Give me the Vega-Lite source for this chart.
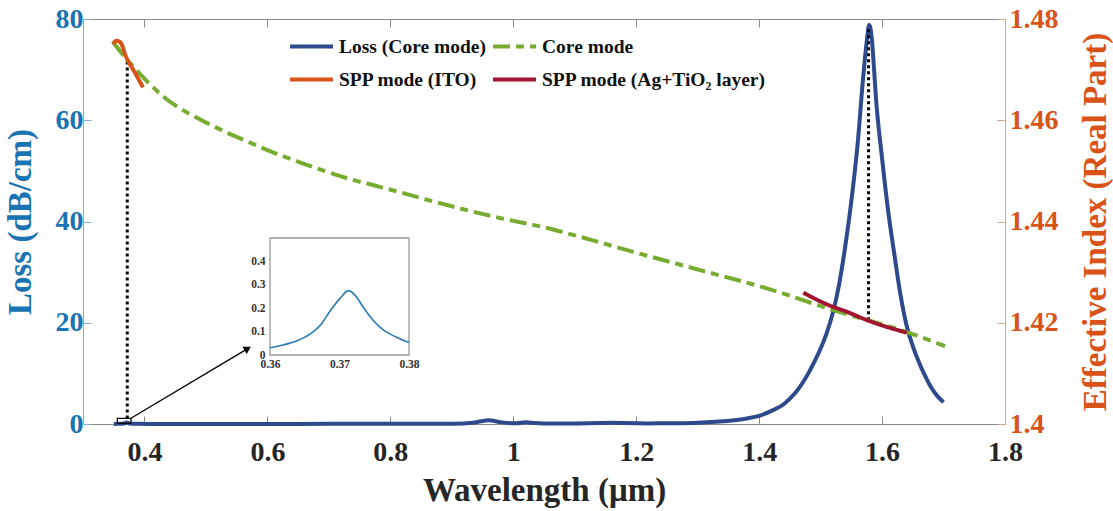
{
  "$schema": "https://vega.github.io/schema/vega-lite/v6.json",
  "width": 922,
  "height": 405,
  "autosize": {"type": "none"},
  "padding": {"left": 83, "top": 19, "right": 108, "bottom": 87},
  "background": "white",
  "config": {
    "view": {"stroke": null},
    "font": "Liberation Serif",
    "axis": {
      "grid": false,
      "labelFont": "Liberation Serif",
      "titleFont": "Liberation Serif",
      "labelFontWeight": "bold",
      "titleFontWeight": "bold",
      "labelOverlap": false,
      "labelFlush": false
    },
    "legend": {
      "orient": "none",
      "legendX": 205,
      "legendY": 4,
      "columns": 2,
      "symbolType": "stroke",
      "symbolSize": 1849,
      "symbolStrokeWidth": 4,
      "labelFont": "Liberation Serif",
      "labelFontWeight": "bold",
      "labelFontSize": 19.5,
      "labelColor": "#111111",
      "labelOffset": 4,
      "labelLimit": 400,
      "columnPadding": -1,
      "rowPadding": -40
    }
  },
  "datasets": {
    "loss": [
      {"wl": 0.35, "loss": 0.02, "series": "Loss (Core mode)"},
      {"wl": 0.355, "loss": 0.025, "series": "Loss (Core mode)"},
      {"wl": 0.36, "loss": 0.031, "series": "Loss (Core mode)"},
      {"wl": 0.362, "loss": 0.043, "series": "Loss (Core mode)"},
      {"wl": 0.364, "loss": 0.061, "series": "Loss (Core mode)"},
      {"wl": 0.366, "loss": 0.09, "series": "Loss (Core mode)"},
      {"wl": 0.3673, "loss": 0.129, "series": "Loss (Core mode)"},
      {"wl": 0.3686, "loss": 0.186, "series": "Loss (Core mode)"},
      {"wl": 0.3701, "loss": 0.243, "series": "Loss (Core mode)"},
      {"wl": 0.3713, "loss": 0.275, "series": "Loss (Core mode)"},
      {"wl": 0.3722, "loss": 0.257, "series": "Loss (Core mode)"},
      {"wl": 0.3734, "loss": 0.205, "series": "Loss (Core mode)"},
      {"wl": 0.3748, "loss": 0.15, "series": "Loss (Core mode)"},
      {"wl": 0.3763, "loss": 0.107, "series": "Loss (Core mode)"},
      {"wl": 0.3782, "loss": 0.076, "series": "Loss (Core mode)"},
      {"wl": 0.38, "loss": 0.053, "series": "Loss (Core mode)"},
      {"wl": 0.39, "loss": 0.03, "series": "Loss (Core mode)"},
      {"wl": 0.42, "loss": 0.02, "series": "Loss (Core mode)"},
      {"wl": 0.5, "loss": 0.02, "series": "Loss (Core mode)"},
      {"wl": 0.6, "loss": 0.02, "series": "Loss (Core mode)"},
      {"wl": 0.7, "loss": 0.03, "series": "Loss (Core mode)"},
      {"wl": 0.8, "loss": 0.04, "series": "Loss (Core mode)"},
      {"wl": 0.88, "loss": 0.06, "series": "Loss (Core mode)"},
      {"wl": 0.92, "loss": 0.12, "series": "Loss (Core mode)"},
      {"wl": 0.94, "loss": 0.35, "series": "Loss (Core mode)"},
      {"wl": 0.96, "loss": 0.75, "series": "Loss (Core mode)"},
      {"wl": 0.975, "loss": 0.45, "series": "Loss (Core mode)"},
      {"wl": 0.99, "loss": 0.2, "series": "Loss (Core mode)"},
      {"wl": 1.005, "loss": 0.15, "series": "Loss (Core mode)"},
      {"wl": 1.02, "loss": 0.35, "series": "Loss (Core mode)"},
      {"wl": 1.035, "loss": 0.2, "series": "Loss (Core mode)"},
      {"wl": 1.06, "loss": 0.08, "series": "Loss (Core mode)"},
      {"wl": 1.1, "loss": 0.1, "series": "Loss (Core mode)"},
      {"wl": 1.14, "loss": 0.18, "series": "Loss (Core mode)"},
      {"wl": 1.16, "loss": 0.25, "series": "Loss (Core mode)"},
      {"wl": 1.18, "loss": 0.18, "series": "Loss (Core mode)"},
      {"wl": 1.22, "loss": 0.12, "series": "Loss (Core mode)"},
      {"wl": 1.26, "loss": 0.15, "series": "Loss (Core mode)"},
      {"wl": 1.3, "loss": 0.25, "series": "Loss (Core mode)"},
      {"wl": 1.33, "loss": 0.45, "series": "Loss (Core mode)"},
      {"wl": 1.36, "loss": 0.75, "series": "Loss (Core mode)"},
      {"wl": 1.38, "loss": 1.1, "series": "Loss (Core mode)"},
      {"wl": 1.4, "loss": 1.6, "series": "Loss (Core mode)"},
      {"wl": 1.42, "loss": 2.6, "series": "Loss (Core mode)"},
      {"wl": 1.44, "loss": 3.9, "series": "Loss (Core mode)"},
      {"wl": 1.45, "loss": 5.0, "series": "Loss (Core mode)"},
      {"wl": 1.46, "loss": 6.3, "series": "Loss (Core mode)"},
      {"wl": 1.47, "loss": 8.0, "series": "Loss (Core mode)"},
      {"wl": 1.48, "loss": 10.0, "series": "Loss (Core mode)"},
      {"wl": 1.49, "loss": 12.3, "series": "Loss (Core mode)"},
      {"wl": 1.5, "loss": 14.9, "series": "Loss (Core mode)"},
      {"wl": 1.51, "loss": 18.0, "series": "Loss (Core mode)"},
      {"wl": 1.52, "loss": 22.0, "series": "Loss (Core mode)"},
      {"wl": 1.53, "loss": 27.5, "series": "Loss (Core mode)"},
      {"wl": 1.54, "loss": 35, "series": "Loss (Core mode)"},
      {"wl": 1.55, "loss": 44, "series": "Loss (Core mode)"},
      {"wl": 1.56, "loss": 55, "series": "Loss (Core mode)"},
      {"wl": 1.57, "loss": 69.5, "series": "Loss (Core mode)"},
      {"wl": 1.575, "loss": 75.5, "series": "Loss (Core mode)"},
      {"wl": 1.579, "loss": 78.8, "series": "Loss (Core mode)"},
      {"wl": 1.583, "loss": 76.5, "series": "Loss (Core mode)"},
      {"wl": 1.587, "loss": 70, "series": "Loss (Core mode)"},
      {"wl": 1.59, "loss": 64.5, "series": "Loss (Core mode)"},
      {"wl": 1.6, "loss": 52.5, "series": "Loss (Core mode)"},
      {"wl": 1.61, "loss": 42, "series": "Loss (Core mode)"},
      {"wl": 1.62, "loss": 33.5, "series": "Loss (Core mode)"},
      {"wl": 1.63, "loss": 25.5, "series": "Loss (Core mode)"},
      {"wl": 1.64, "loss": 19.4, "series": "Loss (Core mode)"},
      {"wl": 1.65, "loss": 15.4, "series": "Loss (Core mode)"},
      {"wl": 1.66, "loss": 12.2, "series": "Loss (Core mode)"},
      {"wl": 1.67, "loss": 9.5, "series": "Loss (Core mode)"},
      {"wl": 1.68, "loss": 7.2, "series": "Loss (Core mode)"},
      {"wl": 1.69, "loss": 5.5, "series": "Loss (Core mode)"},
      {"wl": 1.7, "loss": 4.3, "series": "Loss (Core mode)"}
    ],
    "index": [
      {"wl": 0.349, "n": 1.4754, "series": "Core mode"},
      {"wl": 0.36, "n": 1.4737, "series": "Core mode"},
      {"wl": 0.3705, "n": 1.4721, "series": "Core mode"},
      {"wl": 0.385, "n": 1.4702, "series": "Core mode"},
      {"wl": 0.3976, "n": 1.4685, "series": "Core mode"},
      {"wl": 0.415, "n": 1.4664, "series": "Core mode"},
      {"wl": 0.4356, "n": 1.4642, "series": "Core mode"},
      {"wl": 0.46, "n": 1.4622, "series": "Core mode"},
      {"wl": 0.4898, "n": 1.4602, "series": "Core mode"},
      {"wl": 0.53, "n": 1.4578, "series": "Core mode"},
      {"wl": 0.5712, "n": 1.4556, "series": "Core mode"},
      {"wl": 0.61, "n": 1.4536, "series": "Core mode"},
      {"wl": 0.6525, "n": 1.4517, "series": "Core mode"},
      {"wl": 0.69, "n": 1.4501, "series": "Core mode"},
      {"wl": 0.7339, "n": 1.4484, "series": "Core mode"},
      {"wl": 0.7746, "n": 1.4471, "series": "Core mode"},
      {"wl": 0.8152, "n": 1.4458, "series": "Core mode"},
      {"wl": 0.8966, "n": 1.4431, "series": "Core mode"},
      {"wl": 0.9779, "n": 1.4407, "series": "Core mode"},
      {"wl": 1.0484, "n": 1.4389, "series": "Core mode"},
      {"wl": 1.0869, "n": 1.4377, "series": "Core mode"},
      {"wl": 1.1953, "n": 1.434, "series": "Core mode"},
      {"wl": 1.3038, "n": 1.4304, "series": "Core mode"},
      {"wl": 1.4123, "n": 1.4268, "series": "Core mode"},
      {"wl": 1.5207, "n": 1.4225, "series": "Core mode"},
      {"wl": 1.6291, "n": 1.4186, "series": "Core mode"},
      {"wl": 1.7024, "n": 1.4154, "series": "Core mode"},
      {"wl": 0.3488, "n": 1.4751, "series": "SPP mode (ITO)"},
      {"wl": 0.3542, "n": 1.4757, "series": "SPP mode (ITO)"},
      {"wl": 0.3607, "n": 1.4754, "series": "SPP mode (ITO)"},
      {"wl": 0.3705, "n": 1.4724, "series": "SPP mode (ITO)"},
      {"wl": 0.384, "n": 1.4695, "series": "SPP mode (ITO)"},
      {"wl": 0.3976, "n": 1.4665, "series": "SPP mode (ITO)"},
      {"wl": 1.4719, "n": 1.42594, "series": "SPP mode (Ag+TiO₂ layer)"},
      {"wl": 1.5126, "n": 1.42351, "series": "SPP mode (Ag+TiO₂ layer)"},
      {"wl": 1.5424, "n": 1.42218, "series": "SPP mode (Ag+TiO₂ layer)"},
      {"wl": 1.575, "n": 1.42054, "series": "SPP mode (Ag+TiO₂ layer)"},
      {"wl": 1.64, "n": 1.41804, "series": "SPP mode (Ag+TiO₂ layer)"}
    ],
    "zoomed": [
      {"wl": 0.36, "loss": 0.031},
      {"wl": 0.3619, "loss": 0.043},
      {"wl": 0.3639, "loss": 0.061},
      {"wl": 0.3658, "loss": 0.09},
      {"wl": 0.3673, "loss": 0.129},
      {"wl": 0.3686, "loss": 0.186},
      {"wl": 0.3701, "loss": 0.243},
      {"wl": 0.3713, "loss": 0.275},
      {"wl": 0.3722, "loss": 0.257},
      {"wl": 0.3734, "loss": 0.205},
      {"wl": 0.3748, "loss": 0.15},
      {"wl": 0.3763, "loss": 0.107},
      {"wl": 0.3782, "loss": 0.076},
      {"wl": 0.38, "loss": 0.053}
    ]
  },
  "layer": [
    {
      "layer": [
        {
          "data": {"name": "loss"},
          "mark": {"type": "line", "strokeWidth": 4, "interpolate": "monotone"},
          "encoding": {
            "x": {
              "field": "wl", "type": "quantitative",
              "scale": {"domain": [0.3, 1.8], "nice": false, "zero": false},
              "axis": {
                "orient": "bottom",
                "values": [0.4, 0.6, 0.8, 1, 1.2, 1.4, 1.6, 1.8],
                "format": "~g",
                "tickSize": -8,
                "tickColor": "#8a8a8a",
                "domainColor": "#8a8a8a",
                "labelFontSize": 28,
                "labelColor": "#262626",
                "labelPadding": 22,
                "title": "Wavelength (μm)",
                "titleFontSize": 33,
                "titleColor": "#262626",
                "titleBaseline": "alphabetic",
                "titleY": 76
              }
            },
            "y": {
              "field": "loss", "type": "quantitative",
              "scale": {"domain": [0, 80], "nice": false},
              "axis": {
                "orient": "left",
                "values": [0, 20, 40, 60, 80],
                "tickSize": -8,
                "tickColor": "#7fb0d8",
                "domainColor": "#7fb0d8",
                "labelFontSize": 28,
                "labelColor": "#1a73b3",
                "labelPadding": 8,
                "title": "Loss (dB/cm)",
                "titleFontSize": 33,
                "titleColor": "#1a73b3",
                "titleBaseline": "alphabetic",
                "titleX": -53
              }
            },
            "color": {
              "field": "series", "type": "nominal",
              "scale": {
                "domain": ["Loss (Core mode)", "SPP mode (ITO)", "Core mode", "SPP mode (Ag+TiO₂ layer)"],
                "range": ["#2c4a8c", "#d95319", "#77ac30", "#a2142f"]
              },
              "legend": {"title": null}
            }
          }
        },
        {
          "data": {"values": [
            {"wl": 0.372, "lo": 1.1, "hi": 71.7},
            {"wl": 1.578, "lo": 20.5, "hi": 78.2}
          ]},
          "mark": {"type": "rule", "color": "#000000", "strokeWidth": 3, "strokeDash": [3, 3]},
          "encoding": {
            "x": {"field": "wl", "type": "quantitative"},
            "y": {"field": "lo", "type": "quantitative"},
            "y2": {"field": "hi"}
          }
        },
        {
          "data": {"values": [{"wl": 0.3558, "wl2": 0.378, "lo": 0.14, "hi": 1.13}]},
          "mark": {"type": "rect", "fill": null, "fillOpacity": 0, "stroke": "#000000", "strokeWidth": 1.2},
          "encoding": {
            "x": {"field": "wl", "type": "quantitative"},
            "x2": {"field": "wl2"},
            "y": {"field": "lo", "type": "quantitative"},
            "y2": {"field": "hi"}
          }
        },
        {
          "data": {"values": [{"wl": 0.378, "wl2": 0.568, "lo": 1.13, "hi": 14.9}]},
          "mark": {"type": "rule", "color": "#000000", "strokeWidth": 1.3},
          "encoding": {
            "x": {"field": "wl", "type": "quantitative"},
            "x2": {"field": "wl2"},
            "y": {"field": "lo", "type": "quantitative"},
            "y2": {"field": "hi"}
          }
        },
        {
          "data": {"values": [{"wl": 0.568, "lo": 14.9}]},
          "mark": {"type": "point", "shape": "triangle-right", "filled": true, "color": "#000000", "size": 70, "angle": 329.4, "opacity": 1},
          "encoding": {
            "x": {"field": "wl", "type": "quantitative"},
            "y": {"field": "lo", "type": "quantitative"}
          }
        }
      ]
    },
    {
      "data": {"name": "index"},
      "mark": {"type": "line", "strokeWidth": 4, "interpolate": "monotone"},
      "encoding": {
        "x": {
          "field": "wl", "type": "quantitative",
          "scale": {"domain": [0.3, 1.8], "nice": false, "zero": false},
          "axis": {
            "orient": "top",
            "values": [0.4, 0.6, 0.8, 1, 1.2, 1.4, 1.6, 1.8],
            "labels": false,
            "tickSize": -8,
            "tickColor": "#8a8a8a",
            "domainColor": "#8a8a8a",
            "title": null
          }
        },
        "y": {
          "field": "n", "type": "quantitative",
          "scale": {"domain": [1.4, 1.48], "nice": false, "zero": false},
          "axis": {
            "orient": "right",
            "values": [1.4, 1.42, 1.44, 1.46, 1.48],
            "format": "~g",
            "tickSize": -8,
            "tickColor": "#cfa98c",
            "domainColor": "#cfa98c",
            "labelFontSize": 28,
            "labelColor": "#d95319",
            "labelPadding": 12,
            "title": "Effective Index (Real Part)",
            "titleFontSize": 33,
            "titleColor": "#d95319",
            "titleAngle": 270,
            "titleBaseline": "alphabetic",
            "titleX": 100
          }
        },
        "color": {
          "field": "series", "type": "nominal",
          "scale": {
            "domain": ["Loss (Core mode)", "SPP mode (ITO)", "Core mode", "SPP mode (Ag+TiO₂ layer)"],
            "range": ["#2c4a8c", "#d95319", "#77ac30", "#a2142f"]
          },
          "legend": {"title": null}
        },
        "strokeDash": {
          "field": "series", "type": "nominal",
          "scale": {
            "domain": ["Loss (Core mode)", "SPP mode (ITO)", "Core mode", "SPP mode (Ag+TiO₂ layer)"],
            "range": [[1, 0], [1, 0], [17, 6, 8, 6], [1, 0]]
          },
          "legend": {"title": null}
        }
      }
    },
    {
      "layer": [
        {
          "data": {"values": [{"wl": 0.36, "wl2": 0.38, "lo": 0, "hi": 0.5}]},
          "mark": {"type": "rect", "fill": "#ffffff", "stroke": "#9a9a9a", "strokeWidth": 1.3},
          "encoding": {
            "x": {
              "field": "wl", "type": "quantitative",
              "scale": {"domain": [0.36, 0.38], "range": [187, 326], "nice": false, "zero": false},
              "axis": {
                "orient": "bottom",
                "offset": -69,
                "values": [0.36, 0.37, 0.38],
                "format": "~g",
                "ticks": false,
                "domain": false,
                "labelFontSize": 11.5,
                "labelColor": "#333333",
                "labelPadding": 3,
                "title": null
              }
            },
            "x2": {"field": "wl2"},
            "y": {
              "field": "lo", "type": "quantitative",
              "scale": {"domain": [0, 0.5], "range": [336, 219], "nice": false, "zero": false},
              "axis": {
                "orient": "left",
                "offset": -187,
                "values": [0, 0.1, 0.2, 0.3, 0.4],
                "format": "~g",
                "ticks": false,
                "domain": false,
                "labelFontSize": 11.5,
                "labelColor": "#333333",
                "labelPadding": 5,
                "title": null
              }
            },
            "y2": {"field": "hi"}
          }
        },
        {
          "data": {"name": "zoomed"},
          "mark": {"type": "line", "color": "#2a7ab3", "strokeWidth": 1.6, "interpolate": "monotone"},
          "encoding": {
            "x": {"field": "wl", "type": "quantitative"},
            "y": {"field": "loss", "type": "quantitative"}
          }
        }
      ]
    }
  ],
  "resolve": {"scale": {"x": "independent", "y": "independent"}}
}
